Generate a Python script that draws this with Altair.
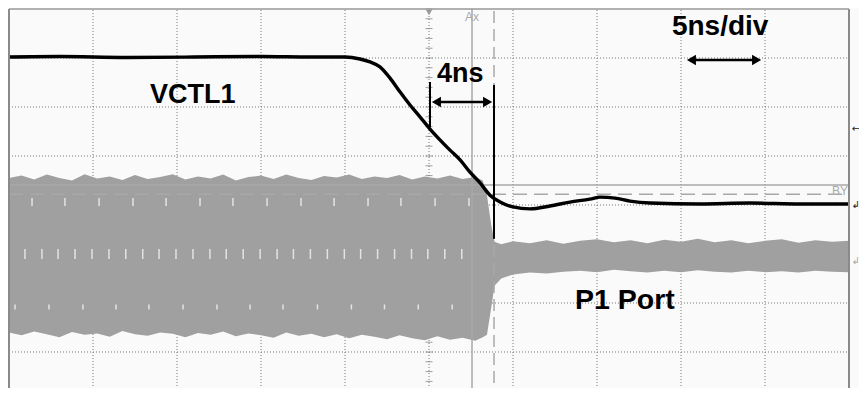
import altair as alt
import pandas as pd

# ---- scale: 5 ns/div horizontally (10 div), 8 vertical divisions ----
X_MIN, X_MAX = -0.0595, 50.595
Y_MIN, Y_MAX = 0.2653, 8.0204

# VCTL1 trace (time ns, level in divisions)
vctl_t = [0, 3, 7, 11, 15, 18, 20.0, 20.89, 21.49, 22.08, 22.68, 23.27, 23.87, 24.46, 25.06,
          25.65, 26.25, 26.85, 27.44, 28.04, 28.63, 29.23, 30.0, 31.01, 32.2, 33.39,
          34.58, 35.18, 36.07, 36.96, 38.15, 41.13, 44.11, 47.08, 50.0]
vctl_v = [7.02, 7.03, 7.01, 7.02, 7.03, 7.02, 7.02, 6.98, 6.92, 6.82, 6.59, 6.31, 6.04, 5.80, 5.55,
          5.33, 5.12, 4.92, 4.67, 4.45, 4.20, 4.06, 3.96, 3.92, 3.98, 4.06,
          4.12, 4.16, 4.14, 4.08, 4.04, 4.02, 4.04, 4.02, 4.02]

# P1 Port RF envelope (time ns, top / bottom in divisions)
p1_t = [0, 0.75, 1.5, 2.25, 3.0, 3.75, 4.5, 5.25, 6.0, 6.75, 7.5, 8.25, 9.0, 9.75, 10.5,
        11.25, 12.0, 12.75, 13.5, 14.25, 15.0, 15.75, 16.5, 17.25, 18.0, 18.75, 19.5,
        20.25, 21.0, 21.75, 22.5, 23.25, 24.0, 24.75, 25.5, 26.25, 27.0, 27.75, 28.2,
        28.45, 28.7, 28.9, 29.3, 30.0, 31.0, 32.0, 33.0, 34.0, 35.0, 36.0, 37.0, 38.0,
        39.0, 40.0, 41.0, 42.0, 43.0, 44.0, 45.0, 46.0, 47.0, 48.0, 49.0, 50.0]
p1_top = [4.55, 4.60, 4.52, 4.62, 4.55, 4.50, 4.63, 4.54, 4.58, 4.51, 4.61, 4.53, 4.57, 4.63, 4.52,
          4.58, 4.54, 4.62, 4.50, 4.57, 4.60, 4.53, 4.62, 4.55, 4.51, 4.59, 4.56,
          4.62, 4.53, 4.58, 4.55, 4.61, 4.52, 4.58, 4.54, 4.60, 4.53, 4.57, 4.50,
          4.20, 3.60, 3.25, 3.20, 3.26, 3.22, 3.28, 3.21, 3.27, 3.30, 3.24, 3.28, 3.22,
          3.29, 3.25, 3.31, 3.24, 3.28, 3.22, 3.27, 3.30, 3.23, 3.28, 3.25, 3.27]
p1_bot = [1.40, 1.34, 1.42, 1.36, 1.30, 1.41, 1.35, 1.38, 1.31, 1.43, 1.36, 1.33, 1.40, 1.37, 1.30,
          1.39, 1.35, 1.42, 1.32, 1.38, 1.34, 1.29, 1.40, 1.33, 1.37, 1.30, 1.36,
          1.28, 1.35, 1.31, 1.26, 1.34, 1.28, 1.24, 1.32, 1.25, 1.29, 1.23, 1.30,
          1.35, 1.90, 2.35, 2.50, 2.58, 2.62, 2.60, 2.64, 2.66, 2.63, 2.68, 2.65, 2.62,
          2.66, 2.63, 2.67, 2.64, 2.62, 2.66, 2.63, 2.65, 2.62, 2.66, 2.64, 2.63]

# faint white streaks inside the RF burst (three rows)
streak1_t = [1.37, 3.33, 5.36, 7.38, 9.35, 11.37, 13.33, 15.36, 17.38, 19.35, 21.37, 23.33, 25.36, 27.38]
streak2_t = [0.95, 1.96, 2.92, 3.93, 4.94, 5.95, 6.95, 7.96, 8.93, 9.94, 10.95, 11.96, 12.93, 13.94,
             14.95, 15.96, 16.93, 17.94, 18.95, 19.96, 20.93, 21.94, 22.95, 23.96, 24.93, 25.94, 26.95]
streak3_t = [0.36, 2.38, 4.40, 6.37, 8.33, 10.36, 12.38, 14.35, 16.31, 18.36, 20.38, 22.35, 24.36, 26.38]
streak_v = [4.06, 3.00, 1.92]

grid_x = [5, 10, 15, 20, 25, 30, 35, 40, 45]
grid_y = [1, 2, 3, 4, 5, 6, 7]
center_ticks = [i / 5 for i in range(41)]

# cursors
cursor_ax, cursor_bx = 27.56, 28.87
cursor_solid_y, cursor_by = 4.41, 4.22

# annotations
meas_left, meas_right = 25.06, 28.87
meas_y = 6.10
div_left, div_right, div_y = 40.24, 44.88, 6.96

labels = ["VCTL1", "4ns", "5ns/div", "P1 Port"]
label_t = [8.39, 25.48, 39.46, 33.69]
label_v = [6.08, 6.51, 7.47, 1.88]
label_size = [27, 27, 28, 28.5]

FONT = "Liberation Sans"


def X(field="t"):
    return alt.X(f"{field}:Q", scale=alt.Scale(domain=[X_MIN, X_MAX], nice=False, zero=False), axis=None)


def Y(field="v"):
    return alt.Y(f"{field}:Q", scale=alt.Scale(domain=[Y_MIN, Y_MAX], nice=False, zero=False), axis=None)


layers = []

# graticule
gx = pd.DataFrame({"t": grid_x, "v0": 0, "v1": 8})
layers.append(alt.Chart(gx).mark_rule(color="#777777", strokeDash=[1, 2], strokeWidth=1).encode(
    x=X(), y=Y("v0"), y2="v1"))
gy = pd.DataFrame({"v": grid_y, "t0": 0, "t1": 50})
layers.append(alt.Chart(gy).mark_rule(color="#777777", strokeDash=[1, 2], strokeWidth=1).encode(
    y=Y(), x=X("t0"), x2="t1"))
ct = pd.DataFrame({"v": center_ticks, "t": 25})
layers.append(alt.Chart(ct).mark_tick(orient="horizontal", size=7, thickness=1, color="#777777").encode(
    x=X(), y=Y()))

# P1 port band
band = pd.DataFrame({"t": p1_t, "top": p1_top, "bot": p1_bot})
layers.append(alt.Chart(band).mark_area(color="#a0a0a0", opacity=1, interpolate="linear").encode(
    x=X(), y=Y("top"), y2="bot"))

# streaks
for ts, v, sz in zip([streak1_t, streak2_t, streak3_t], streak_v, [8, 10, 5]):
    sd = pd.DataFrame({"t": ts, "v": v})
    layers.append(alt.Chart(sd).mark_tick(orient="vertical", size=sz, thickness=1.5, color="#eeeeee",
                                          opacity=0.85).encode(x=X(), y=Y()))

# cursors
layers.append(alt.Chart(pd.DataFrame({"v": [cursor_solid_y], "t0": [0], "t1": [50]})).mark_rule(
    color="#a8a8a8", strokeWidth=1.5).encode(y=Y(), x=X("t0"), x2="t1"))
layers.append(alt.Chart(pd.DataFrame({"v": [cursor_by], "t0": [0], "t1": [50]})).mark_rule(
    color="#a8a8a8", strokeWidth=1.5, strokeDash=[14, 7]).encode(y=Y(), x=X("t0"), x2="t1"))
layers.append(alt.Chart(pd.DataFrame({"t": [cursor_ax], "v0": [0], "v1": [8]})).mark_rule(
    color="#a8a8a8", strokeWidth=1.5).encode(x=X(), y=Y("v0"), y2="v1"))
layers.append(alt.Chart(pd.DataFrame({"t": [cursor_bx], "v0": [0], "v1": [8]})).mark_rule(
    color="#a8a8a8", strokeWidth=1.5, strokeDash=[12, 6]).encode(x=X(), y=Y("v0"), y2="v1"))

# VCTL1 trace
vc = pd.DataFrame({"t": vctl_t, "v": vctl_v})
layers.append(alt.Chart(vc).mark_line(color="#000000", strokeWidth=3.4, interpolate="monotone").encode(
    x=X(), y=Y()))

# measurement markers
mk = pd.DataFrame({"t": [meas_left, meas_right], "v0": [6.51, 6.45], "v1": [5.59, 3.31]})
layers.append(alt.Chart(mk).mark_rule(color="#000000", strokeWidth=2).encode(
    x=X(), y=Y("v0"), y2="v1"))

# double arrows
arr = pd.DataFrame({"t0": [meas_left + 0.3, div_left + 0.3], "t1": [meas_right - 0.3, div_right - 0.3],
                    "v": [meas_y, div_y]})
layers.append(alt.Chart(arr).mark_rule(color="#000000", strokeWidth=2.5).encode(
    y=Y(), x=X("t0"), x2="t1"))
heads_l = pd.DataFrame({"t": [meas_left + 0.38, div_left + 0.38], "v": [meas_y, div_y]})
heads_r = pd.DataFrame({"t": [meas_right - 0.38, div_right - 0.38], "v": [meas_y, div_y]})
layers.append(alt.Chart(heads_l).mark_point(shape="triangle-left", filled=True, color="#000000",
                                            size=110, opacity=1).encode(x=X(), y=Y()))
layers.append(alt.Chart(heads_r).mark_point(shape="triangle-right", filled=True, color="#000000",
                                            size=110, opacity=1).encode(x=X(), y=Y()))

# trigger marker at top
layers.append(alt.Chart(pd.DataFrame({"t": [25], "v": [7.93]})).mark_point(
    shape="triangle-down", filled=True, color="#999999", size=40, opacity=1).encode(x=X(), y=Y()))

# small gray cursor labels
cl = pd.DataFrame({"t": [cursor_ax, 49.46], "v": [7.84, 4.29], "s": ["Ax", "BY"]})
layers.append(alt.Chart(cl).mark_text(font=FONT, fontSize=12, color="#aaaaaa", align="center",
                                      baseline="middle").encode(x=X(), y=Y(), text="s:N"))

# big labels
lb = pd.DataFrame({"t": label_t, "v": label_v, "s": labels, "fs": label_size})
layers.append(alt.Chart(lb).mark_text(font=FONT, fontWeight="bold", color="#000000",
                                      align="left", baseline="alphabetic").encode(
    x=X(), y=Y(), text="s:N", size=alt.Size("fs:Q", scale=None, legend=None)))

# frame (left, right, top)
layers.append(alt.Chart(pd.DataFrame({"t": [0, 50], "v0": [0, 0], "v1": [8, 8]})).mark_rule(
    color="#8a8a8a", strokeWidth=2).encode(x=X(), y=Y("v0"), y2="v1"))
layers.append(alt.Chart(pd.DataFrame({"v": [8], "t0": [0], "t1": [50]})).mark_rule(
    color="#999999", strokeWidth=1.5).encode(y=Y(), x=X("t0"), x2="t1"))

# right-side channel markers
rm = pd.DataFrame({"t": [50.42, 50.42, 50.42], "v": [5.55, 4.0, 2.85],
                   "s": ["←", "↲", "↲"], "c": ["k", "k", "g"]})
layers.append(alt.Chart(rm).mark_text(font="DejaVu Sans", fontSize=10, align="center",
                                      baseline="middle").encode(
    x=X(), y=Y(), text="s:N",
    color=alt.Color("c:N", scale=alt.Scale(domain=["k", "g"], range=["#222222", "#aaaaaa"]), legend=None)))

chart = alt.layer(*layers).properties(
    width=851, height=380,
    autosize=alt.AutoSizeParams(type="none"),
    padding=0,
    background="#ffffff",
).configure_view(stroke=None, fill="#fafafa")

chart.save("out.html", embed_options={"renderer": "svg", "actions": False})
